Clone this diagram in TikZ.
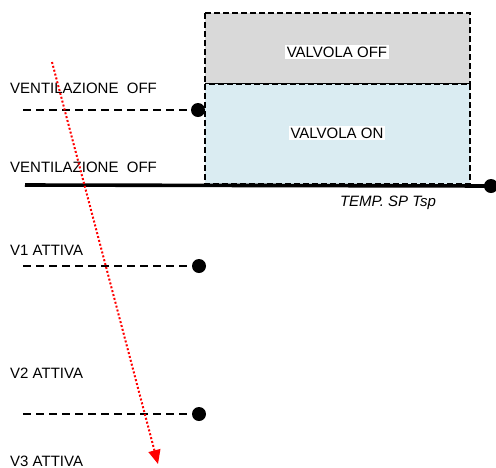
\documentclass[tikz,border=0pt]{standalone}
\usepackage{fontspec}
\setmainfont{Liberation Sans}
\usetikzlibrary{arrows.meta,positioning}

\begin{document}
\begin{tikzpicture}[x=1pt, y=-1pt,
    every node/.style={font=\fontsize{15}{17}\selectfont},
    lbl/.style={anchor=west, inner sep=0pt},
    dot/.style={circle, fill=black, inner sep=0pt, minimum size=14pt},
    soglia/.style={line width=2.8pt, dash pattern=on 8pt off 5pt},
    zona/.style={line width=1.6pt, dash pattern=on 6pt off 3pt},
    valv/.style={fill=white, inner sep=2pt}]
    \useasboundingbox (0,0) rectangle (496,467);

    % zone valvola
    \draw[zona, fill={rgb,255:red,217;green,217;blue,217}] (205,13) rectangle (470,84);
    \draw[zona, fill={rgb,255:red,218;green,236;blue,242}] (205,84) rectangle (470,184);
    \node[valv](off) at (337,52) {VALVOLA OFF};
    \node[valv](on) at (337,133) {VALVOLA ON};

    % asse temperatura
    \coordinate (inizio) at (25,185);
    \node[dot](tsp) at (491,186) {};
    \draw[line width=3.6pt] (inizio) -- (tsp.center);
    \node[font=\fontsize{15}{17}\selectfont\itshape](temp) at (388,203) {TEMP. SP Tsp};

    % soglie ventilazione
    \node[lbl](vent1) at (10,88) {VENTILAZIONE\ \ OFF};
    \node[lbl](vent2) at (10,167) {VENTILAZIONE\ \ OFF};
    \node[lbl](v1) at (10,250) {V1 ATTIVA};
    \node[lbl](v2) at (10,373) {V2 ATTIVA};
    \node[lbl](v3) at (10,461) {V3 ATTIVA};

    \node[dot](d0) at (198,110) {};
    \node[dot](d1) at (199,266) {};
    \node[dot](d2) at (199,414) {};
    \coordinate (s0) at (23,110);
    \coordinate (s1) at (23,266);
    \coordinate (s2) at (23,414);
    \draw[soglia] (s0) -- (d0);
    \draw[soglia] (s1) -- (d1);
    \draw[soglia] (s2) -- (d2);

    % freccia
    \coordinate (alto) at (52,62);
    \coordinate (basso) at (158,464);
    \draw[red, line width=2pt, dotted, -{Triangle[length=14pt, width=12pt]}] (alto) -- (basso);
\end{tikzpicture}
\end{document}
